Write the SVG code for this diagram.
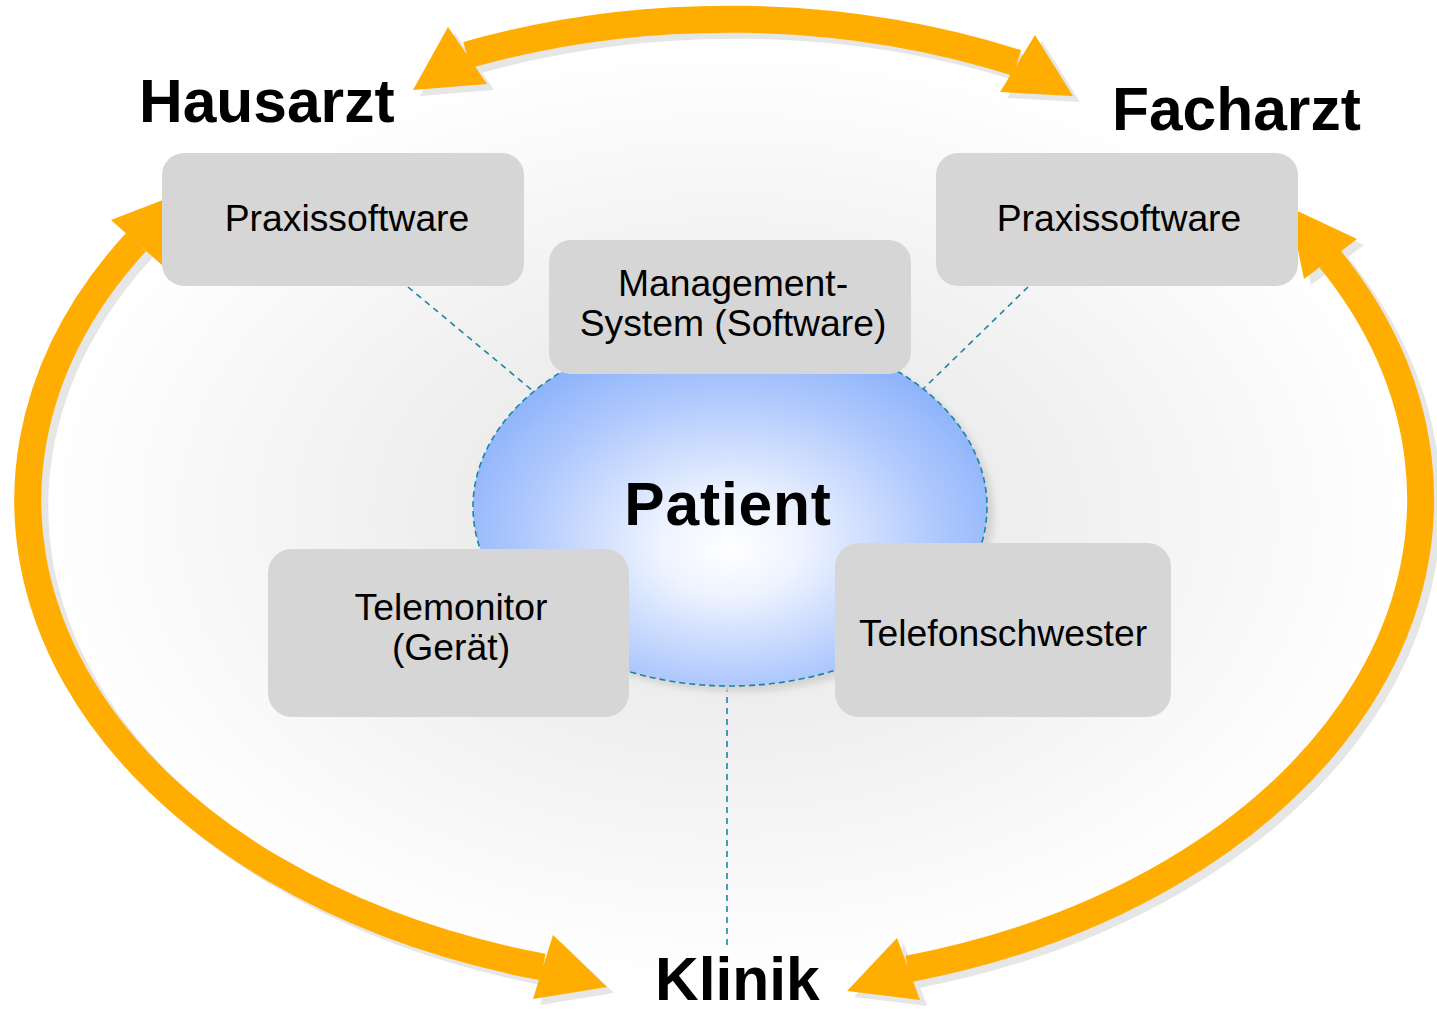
<svg xmlns="http://www.w3.org/2000/svg" width="1437" height="1009" viewBox="0 0 1437 1009">
  <defs>
    <radialGradient id="glow" cx="50%" cy="50%" r="50%">
      <stop offset="0" stop-color="#e4e4e4"/>
      <stop offset="0.45" stop-color="#efefef"/>
      <stop offset="1" stop-color="#ffffff"/>
    </radialGradient>
    <radialGradient id="patientFill" cx="50%" cy="58%" r="55%" fx="50%" fy="62%">
      <stop offset="0" stop-color="#ffffff"/>
      <stop offset="0.25" stop-color="#eef3ff"/>
      <stop offset="0.7" stop-color="#b3cbfd"/>
      <stop offset="1" stop-color="#8fb4fb"/>
    </radialGradient>
    <filter id="soft" x="-10%" y="-10%" width="120%" height="120%">
      <feGaussianBlur stdDeviation="3"/>
    </filter>
  </defs>
  <style>
    .box { fill: #d6d6d6; }
    .label { font-family: "Liberation Sans", Arial, sans-serif; font-size: 37.3px; fill: #000; text-anchor: middle; }
    .title { font-family: "Liberation Sans", Arial, sans-serif; font-size: 60.5px; font-weight: bold; fill: #000; }
    .link { stroke: #1a86a6; stroke-width: 1.6; stroke-dasharray: 6 5; fill: none; }
    .shaft { fill: none; stroke: #ffad00; stroke-width: 27; }
    .head { fill: #ffad00; }
    .shaftShadow { fill: none; stroke: #e6e6e6; stroke-width: 27; }
    .headShadow { fill: #e6e6e6; }
  </style>

  <rect width="1437" height="1009" fill="#ffffff"/>
  <!-- soft grey halo behind the centre -->
  <ellipse cx="728" cy="515" rx="690" ry="470" fill="url(#glow)"/>

  <!-- connectors -->
  <g id="connectors">
    <!-- exchange arrows between the three sites, with drop shadows -->
    <g id="arrowShadows" transform="translate(7,6)">
      <path class="shaftShadow" d="M467,55 A690,479 0 0 1 1017,63"/>
      <polygon class="headShadow" points="448,27 413,90 487,84"/>
      <polygon class="headShadow" points="1035,35 1073,96 1000,92"/>
      <path class="shaftShadow" d="M136,242 A696.5,483 0 0 0 543,967"/>
      <polygon class="headShadow" points="111,220 181,193 162,265"/>
      <polygon class="headShadow" points="553,935 607,987 533,999"/>
      <path class="shaftShadow" d="M908,969 A696.5,487 0 0 0 1330,259"/>
      <polygon class="headShadow" points="1357,239 1289,207 1304,279"/>
      <polygon class="headShadow" points="897,938 847,991 920,1000"/>
    </g>
    <g id="arrows">
      <path class="shaft" d="M467,55 A690,479 0 0 1 1017,63"/>
      <polygon class="head" points="448,27 413,90 487,84"/>
      <polygon class="head" points="1035,35 1073,96 1000,92"/>
      <path class="shaft" d="M136,242 A696.5,483 0 0 0 543,967"/>
      <polygon class="head" points="111,220 181,193 162,265"/>
      <polygon class="head" points="553,935 607,987 533,999"/>
      <path class="shaft" d="M908,969 A696.5,487 0 0 0 1330,259"/>
      <polygon class="head" points="1357,239 1289,207 1304,279"/>
      <polygon class="head" points="897,938 847,991 920,1000"/>
    </g>
    <!-- dashed links to the patient -->
    <line class="link" x1="408" y1="287" x2="533" y2="391"/>
    <line class="link" x1="1028" y1="287" x2="921" y2="391"/>
    <line class="link" x1="727" y1="686" x2="727" y2="946"/>
  </g>

  <!-- patient -->
  <g id="patient">
    <ellipse cx="737" cy="513" rx="257" ry="179" fill="#d4d4d4" filter="url(#soft)"/>
    <ellipse cx="730" cy="507" rx="257" ry="179" fill="url(#patientFill)" stroke="#1a86a6" stroke-width="1.6" stroke-dasharray="6 4"/>
    <text class="title" x="728" y="525" text-anchor="middle" font-size="63" letter-spacing="0.8">Patient</text>
  </g>

  <!-- site titles -->
  <g id="hausarzt">
    <text class="title" x="139" y="122">Hausarzt</text>
  </g>
  <g id="facharzt">
    <text class="title" x="1112" y="130">Facharzt</text>
  </g>
  <g id="klinik">
    <text class="title" x="655" y="1000">Klinik</text>
  </g>

  <!-- components -->
  <g id="praxis-hausarzt">
    <rect class="box" x="162" y="153" width="362" height="133" rx="22"/>
    <text class="label" x="347" y="231">Praxissoftware</text>
  </g>
  <g id="praxis-facharzt">
    <rect class="box" x="936" y="153" width="362" height="133" rx="22"/>
    <text class="label" x="1119" y="231">Praxissoftware</text>
  </g>
  <g id="management">
    <rect class="box" x="549" y="240" width="362" height="134" rx="22"/>
    <text class="label" x="733" y="296">Management-</text>
    <text class="label" x="733" y="336">System (Software)</text>
  </g>
  <g id="telemonitor">
    <rect class="box" x="268" y="549" width="361" height="168" rx="24"/>
    <text class="label" x="451" y="620">Telemonitor</text>
    <text class="label" x="451" y="660">(Gerät)</text>
  </g>
  <g id="telefonschwester">
    <rect class="box" x="835" y="543" width="336" height="174" rx="24"/>
    <text class="label" x="1003" y="646">Telefonschwester</text>
  </g>
</svg>
